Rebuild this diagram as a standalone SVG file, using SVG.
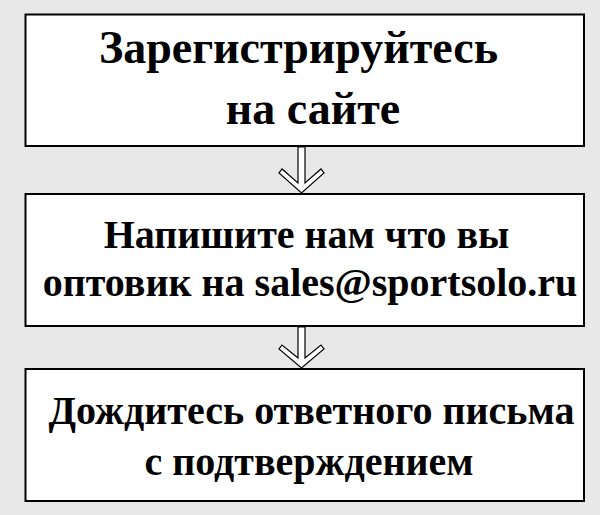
<svg xmlns="http://www.w3.org/2000/svg" width="600" height="515" viewBox="0 0 600 515">
<style>
.box{fill:#fff;stroke:#000;stroke-width:2}
.t{font-family:"Liberation Serif","Times New Roman",serif;font-weight:bold;fill:#000;text-anchor:middle}
.arr{fill:#fff;stroke:#000;stroke-width:1.2;stroke-linejoin:miter}
</style>
<rect width="600" height="515" fill="#e8e8e8"/>
<g id="node1">
<rect class="box" x="25.5" y="14.5" width="558.5" height="131.5"/>
<text class="t" x="298.5" y="63" font-size="46">Зарегистрируйтесь</text>
<text class="t" x="313" y="124" font-size="46">на сайте</text>
</g>
<g id="node2">
<rect class="box" x="25.5" y="194" width="558.5" height="132"/>
<text class="t" x="306.5" y="248" font-size="40">Напишите нам что вы</text>
<text class="t" x="310" y="296" font-size="40">оптовик на sales@sportsolo.ru</text>
</g>
<g id="node3">
<rect class="box" x="25.5" y="369" width="558.5" height="132"/>
<text class="t" x="311.5" y="424" font-size="40">Дождитесь ответного письма</text>
<text class="t" x="309" y="475" font-size="40">с подтверждением</text>
</g>
<g id="connectors">
<polygon class="arr" points="298,147 305,147 305,183 321,169 324,173 301.5,193 279,173 282,169 298,183"/>
<polygon class="arr" points="298,327 305,327 305,358 321,345 324,349 301.5,368 279,349 282,345 298,358"/>
</g>
</svg>
